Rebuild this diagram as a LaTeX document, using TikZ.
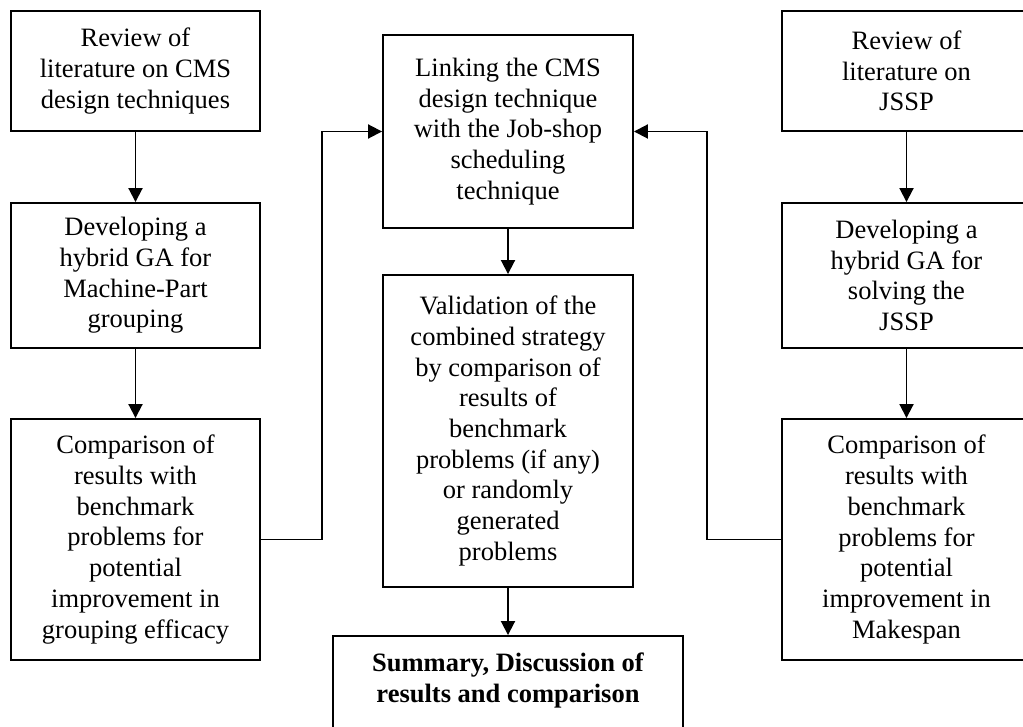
\documentclass[tikz,border=0pt]{standalone}
\usepackage{fontspec}
\setmainfont{Liberation Serif}
\usetikzlibrary{arrows.meta}
\begin{document}
\begin{tikzpicture}[x=1pt,y=-1pt,
  box/.style={draw, line width=1.9pt, align=center, inner sep=0pt,
    font=\fontsize{26.5}{30.7}\selectfont},
  colbox/.style={box, minimum width=249pt},
  midbox/.style={box, minimum width=250pt},
  arr/.style={line width=1.9pt, -{Triangle[length=14pt,width=14pt]}}]
\useasboundingbox (0,0) rectangle (1023,727);
\clip (0,0) rectangle (1023,727);
\fill[white] (0,0) rectangle (1023,727);

% left column: cell formation design
\node[colbox, minimum height=120pt] (l1) at (135.5,71)
  {Review of\\literature on CMS\\design techniques};
\node[colbox, minimum height=145pt] (l2) at (135.5,275.5)
  {Developing a\\hybrid GA for\\Machine-Part\\grouping};
\node[colbox, minimum height=241pt] (l3) at (135.5,539.5)
  {Comparison of\\results with\\benchmark\\problems for\\potential\\improvement in\\grouping efficacy};

% right column: job-shop scheduling
\node[colbox, minimum height=120pt] (r1) at (906.5,71)
  {Review of\\literature on\\JSSP};
\node[colbox, minimum height=145pt] (r2) at (906.5,275.5)
  {Developing a\\hybrid GA for\\solving the\\JSSP};
\node[colbox, minimum height=241pt] (r3) at (906.5,539.5)
  {Comparison of\\results with\\benchmark\\problems for\\potential\\improvement in\\Makespan};

% middle column: combined approach
\node[midbox, minimum height=193pt] (m1) at (508,131.5)
  {Linking the CMS\\design technique\\with the Job-shop\\scheduling\\technique};
\node[midbox, minimum height=312pt] (m2) at (508,431)
  {Validation of the\\combined strategy\\by comparison of\\results of\\benchmark\\problems (if any)\\or randomly\\generated\\problems};
\node[box, minimum width=350pt, minimum height=130pt] (m3) at (508,701) {};
\node[font=\fontsize{26.5}{30.7}\selectfont\bfseries, align=center, anchor=north,
  inner sep=0pt] (m3t) at (508,653) {Summary, Discussion of\\results and comparison};

% flow arrows
\draw[arr] (l1) -- (l2);
\draw[arr] (l2) -- (l3);
\draw[arr] (r1) -- (r2);
\draw[arr] (r2) -- (r3);
\draw[arr] (m1) -- (m2);
\draw[arr] (m2) -- (m3);

\coordinate (lj) at (322,539.5);
\coordinate (rj) at (707,539.5);
\draw[arr] (l3.east) -- (lj) |- (m1.west);
\draw[arr] (r3.west) -- (rj) |- (m1.east);
\end{tikzpicture}
\end{document}
